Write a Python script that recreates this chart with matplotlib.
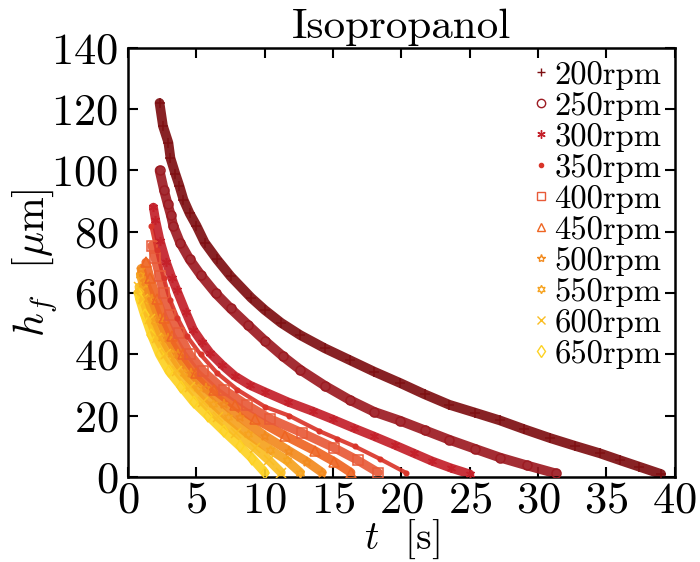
import matplotlib
matplotlib.use("Agg")
import matplotlib.pyplot as plt
from matplotlib.lines import Line2D

plt.rcParams['font.family'] = 'serif'
plt.rcParams['font.serif'] = ['cmr10']
plt.rcParams['mathtext.fontset'] = 'cm'
plt.rcParams['axes.formatter.use_mathtext'] = True

labels = ['200rpm', '250rpm', '300rpm', '350rpm', '400rpm',
          '450rpm', '500rpm', '550rpm', '600rpm', '650rpm']

t200 = [2.3, 2.55, 2.95, 3.1, 3.45, 3.75, 4.05, 4.5, 5.0, 5.6, 6.5, 7.5, 9, 10.0, 11.2, 12.6, 14.4, 16.2, 18.0, 19.9, 21.7, 23.5, 25.4, 27.2, 29.0, 30.9, 32.7, 34.5, 36.0, 37.4, 39.0]
h200 = [122, 114.5, 109, 104, 99, 95, 90.5, 86, 82, 76.5, 71, 65.5, 58.5, 54.5, 50.3, 46.3, 42.0, 38.2, 34.4, 30.7, 27.0, 23.6, 21.0, 18.5, 15.6, 12.7, 10.2, 7.8, 5.5, 3.4, 1.0]

t250 = [2.3, 2.63, 2.9, 3.12, 3.3, 3.8, 4.5, 5.3, 6.4, 7.5, 8.8, 10.0, 11.3, 12.6, 14.4, 16.2, 18.0, 19.9, 21.7, 23.5, 25.4, 27.2, 29.2, 31.3]
h250 = [100, 93.5, 89, 85.5, 82, 76.5, 71, 66, 60, 55, 49.5, 44.5, 39.5, 35.0, 29.8, 25.2, 21.3, 18.4, 15.3, 12.2, 9.2, 6.4, 3.8, 1.2]

t300 = [1.85, 2.0, 2.34, 2.8, 3.2, 3.56, 4.2, 4.78, 5.4, 6.0, 6.9, 7.8, 8.9, 10.0, 11.7, 13.5, 15.0, 16.5, 18.0, 19.5, 20.9, 22.2, 23.6, 25.0]
h300 = [88, 84, 77, 70, 65, 61, 54, 48, 44, 40.5, 36.5, 33, 30, 27.8, 24.5, 21.5, 18.8, 16, 13.3, 10.5, 7.8, 5.3, 3, 1]

t350 = [1.7, 2.1, 2.6, 3.07, 3.6, 4.3, 5.3, 6.5, 8, 10, 11.8, 14, 15.3, 16.6, 18.4, 20.3]
h350 = [82, 74, 65, 57.8, 52, 46, 40, 34, 28.5, 23, 20, 15, 12.5, 10, 6, 1.5]

t400 = [1.75, 1.97, 2.3, 2.6, 3.1, 3.7, 4.5, 5.5, 7, 8.7, 10.4, 12.7, 15.1, 16.8, 18.3]
h400 = [75.5, 71.5, 65.5, 60, 53, 47, 40, 34.5, 28.5, 23.5, 19, 14.5, 9.5, 5.5, 1.5]

t450 = [1.3, 1.6, 2.1, 2.6, 3.2, 4.0, 5.0, 6.3, 7.8, 9.3, 11.5, 13.7, 15.1, 16.3]
h450 = [70, 65, 58, 52, 46, 40, 34, 28.5, 23.5, 19, 13.5, 8.5, 5, 1.5]

t500 = [0.95, 1.2, 1.75, 2.3, 2.9, 3.65, 4.6, 5.7, 7.0, 8.2, 10.0, 11.8, 13.1, 14.2]
h500 = [68, 64, 58, 51.5, 45.5, 40, 34, 29, 24, 19.5, 13.5, 8.5, 5, 1.5]

t550 = [0.9, 1.1, 1.45, 2.0, 2.5, 3.2, 4.1, 5.1, 6.2, 7.3, 8.8, 10.4, 11.6, 12.6]
h550 = [66, 63, 58, 51, 45.5, 40, 34, 29, 24, 19.5, 14, 9, 5.5, 1.5]

t600 = [0.8, 1.1, 1.6, 2.1, 2.8, 3.6, 4.5, 5.5, 6.6, 7.9, 9.3, 10.3, 11.2]
h600 = [62, 58, 51.5, 45.5, 40, 34.5, 29.5, 24.5, 19.5, 14.5, 9.5, 5.5, 1.5]

t650 = [0.75, 0.85, 1.2, 1.7, 2.3, 3.0, 3.9, 4.8, 5.85, 7.0, 8.2, 9.1, 10.0]
h650 = [60, 58, 53, 46.5, 40, 34.5, 29.5, 24.5, 20, 15, 10, 6, 1.5]

ts = [t200, t250, t300, t350, t400, t450, t500, t550, t600, t650]
hs = [h200, h250, h300, h350, h400, h450, h500, h550, h600, h650]

colors = ['#7e0f12', '#9c1b22', '#c4202a', '#d9352a', '#e85a38',
          '#ee6522', '#f28a1e', '#f6a21e', '#fabd22', '#fdd223']
markers = ['+', 'o', (6, 2, 0), '.', 's', '^', '*', (6, 1, 0), 'x', 'd']
bandw = [7, 7, 6.5, 3, 6.5, 6.5, 6.5, 6.5, 6.5, 6.5]
filled = ['+', 'x', '.', (6, 2, 0)]

fig = plt.figure(figsize=(7.0, 5.62), dpi=100)
ax = fig.add_axes([0.183, 0.151, 0.781, 0.764])

for i in reversed(range(len(labels))):
    ax.plot(ts[i], hs[i], '-', color=colors[i], lw=bandw[i], alpha=0.92,
            solid_capstyle='round', solid_joinstyle='round', zorder=2 + (10 - i) * 0.01)
    ax.plot(ts[i], hs[i], ls='none', marker=markers[i], color=colors[i],
            mfc=colors[i] if markers[i] in filled else 'none',
            ms=6.5, mew=1.1, zorder=3)

handles = [Line2D([], [], ls='none', marker=markers[i], color=colors[i],
                  mfc=colors[i] if markers[i] in filled else 'none',
                  ms=6, mew=1.0) for i in range(len(labels))]
leg = ax.legend(handles, labels, loc='upper right', frameon=False,
                fontsize=23.5, handlelength=0.45, handletextpad=0.2,
                labelspacing=0.06, borderaxespad=0.3, borderpad=0.1)

ax.set_xlim(0, 40)
ax.set_ylim(0, 140)
ax.set_xticks(range(0, 41, 5))
ax.set_yticks(range(0, 141, 20))
ax.tick_params(direction='in', top=True, right=True, length=7, width=1.5,
               labelsize=32, pad=3)
ax.tick_params(axis='y', pad=7)
for s in ax.spines.values():
    s.set_linewidth(1.8)

ax.set_title('Isopropanol', fontsize=31, pad=7)
ax.set_xlabel(r'$t$  [s]', fontsize=28.5)
ax.set_ylabel(r'$h_f$  [$\mu$m]', fontsize=30)
ax.xaxis.label.set_va('center')
ax.yaxis.label.set_va('center')
ax.xaxis.set_label_coords(0.5, -0.146)
ax.yaxis.set_label_coords(-0.17, 0.5)

fig.savefig('out.png', dpi=100)
